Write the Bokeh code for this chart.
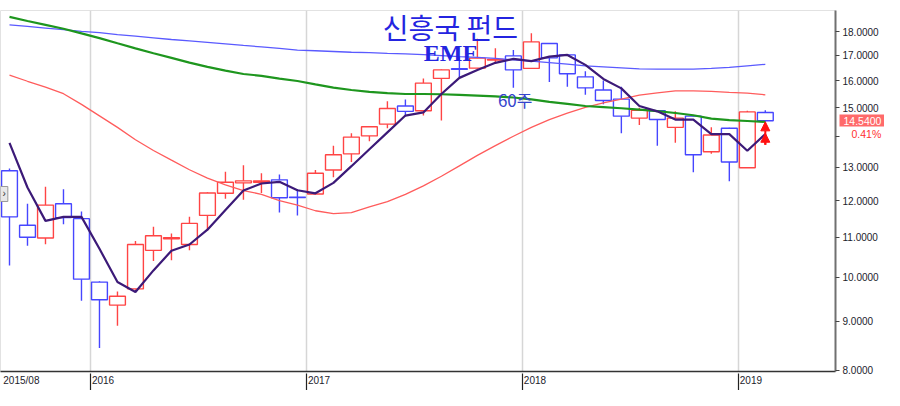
from bokeh.plotting import figure
from bokeh.models import (FixedTicker, PrintfTickFormatter, Range1d, Label,
                          Arrow, NormalHead, ColumnDataSource, LinearAxis, LogAxis)
from bokeh.embed import file_html
from bokeh.resources import INLINE

# ---- data (monthly candles, 2015/08 .. 2019/02) ----
opens = [12.90, 11.32, 10.98, 11.92, 11.50, 9.88, 9.35, 9.72, 10.66, 10.96,
         10.81, 11.59, 12.22, 12.53, 12.55, 12.62, 12.11, 12.20, 12.92, 13.43,
         14.02, 14.42, 15.06, 14.89, 16.09, 16.47, 16.49, 16.81, 16.98, 16.48,
         17.49, 17.02, 16.15, 15.65, 15.31, 14.63, 14.89, 14.31, 14.70, 13.50,
         14.28, 12.99, 14.83]
highs = [12.97, 11.92, 12.41, 12.34, 11.70, 9.90, 9.66, 10.90, 11.28, 11.10,
         11.55, 12.25, 12.87, 13.07, 12.82, 12.78, 12.35, 12.92, 13.69, 14.11,
         14.35, 15.23, 15.30, 16.09, 16.44, 16.98, 17.69, 17.29, 17.22, 17.93,
         17.51, 17.04, 16.37, 16.01, 15.77, 15.00, 14.91, 14.87, 14.73, 14.31,
         14.30, 14.89, 14.91]
lows = [10.28, 10.78, 10.82, 11.35, 9.45, 8.44, 8.90, 9.70, 10.39, 10.41,
        10.66, 11.17, 12.06, 12.03, 12.23, 11.67, 11.59, 12.19, 12.70, 13.17,
        13.84, 14.28, 14.69, 14.72, 14.55, 16.13, 16.47, 16.70, 15.73, 16.46,
        15.95, 15.77, 15.47, 15.12, 14.11, 14.39, 13.69, 13.79, 12.85, 13.43,
        12.58, 12.98, 14.50]
closes = [11.55, 11.00, 11.88, 11.53, 9.95, 9.47, 9.55, 10.81, 11.04, 10.99,
          11.37, 12.23, 12.55, 12.59, 12.59, 12.09, 12.10, 12.82, 13.40, 13.98,
          14.33, 14.97, 14.87, 15.91, 16.42, 16.44, 16.89, 16.84, 16.42, 17.56,
          16.90, 16.27, 15.73, 15.26, 14.70, 14.91, 14.58, 14.63, 13.40, 14.05,
          13.17, 14.85, 14.54]
ma_short = [13.79, 12.39, 11.44, 11.55, 11.55, 10.70, 9.88, 9.65, 10.16, 10.65,
            10.81, 11.20, 11.74, 12.30, 12.51, 12.56, 12.31, 12.22, 12.53, 13.04,
            13.58, 14.14, 14.72, 14.83, 15.50, 16.11, 16.42, 16.70, 16.86, 16.77,
            16.95, 17.02, 16.62, 16.07, 15.71, 15.06, 14.87, 14.58, 14.58, 14.08,
            14.08, 13.53, 14.08]
ma_mid = [16.22, 15.98, 15.76, 15.51, 15.12, 14.71, 14.31, 13.89, 13.54, 13.23,
          12.93, 12.67, 12.47, 12.30, 12.19, 12.01, 11.88, 11.72, 11.64, 11.67,
          11.83, 11.98, 12.19, 12.44, 12.73, 13.05, 13.38, 13.70, 14.01, 14.31,
          14.58, 14.81, 15.01, 15.17, 15.31, 15.46, 15.54, 15.62, 15.62, 15.60,
          15.56, 15.53, 15.47]
ma_long = [18.64, 18.46, 18.29, 18.12, 17.92, 17.72, 17.50, 17.29, 17.09, 16.90,
           16.71, 16.54, 16.39, 16.26, 16.19, 16.08, 15.99, 15.86, 15.74, 15.65,
           15.58, 15.53, 15.50, 15.50, 15.49, 15.47, 15.44, 15.41, 15.37, 15.30,
           15.21, 15.14, 15.06, 15.02, 14.98, 14.93, 14.88, 14.81, 14.73, 14.61,
           14.56, 14.53, 14.50]
ma_longest = [18.29, 18.22, 18.15, 18.08, 18.01, 17.95, 17.87, 17.80, 17.73, 17.66,
              17.60, 17.54, 17.48, 17.41, 17.35, 17.29, 17.22, 17.19, 17.16, 17.13,
              17.11, 17.08, 17.06, 17.03, 16.99, 16.95, 16.92, 16.88, 16.82, 16.77,
              16.71, 16.65, 16.58, 16.54, 16.50, 16.46, 16.45, 16.45, 16.45, 16.48,
              16.52, 16.58, 16.64]

x_tick_pos = [0, 5, 17, 29, 41]
x_tick_labels = ["2015/08", "2016", "2017", "2018", "2019"]
y_ticks = [8, 9, 10, 11, 12, 13, 14, 15, 16, 17, 18]

last_price = 14.54
change_text = "0.41%"
change_level = 14.08
signal_index = 42
signal_base = 13.73
signal_tips = [14.50, 14.11]

RED = "#ff4444"
BLUE = "#4646ff"
TXT = "#1c1c2c"

n = len(closes)
xs = [i + 0.5 for i in range(n)]
cols = [RED if c >= o else BLUE for o, c in zip(opens, closes)]
src = ColumnDataSource(dict(
    x=xs, o=opens, h=highs, l=lows, c=closes,
    top=[max(o, c) for o, c in zip(opens, closes)],
    bot=[min(o, c) for o, c in zip(opens, closes)],
    col=cols,
))

p = figure(width=884, height=390, x_range=Range1d(0, 46.4),
           y_range=Range1d(7.976, 18.93), y_axis_type="log",
           x_axis_location=None, y_axis_location=None,
           output_backend="svg", toolbar_location=None,
           min_border_left=0, min_border_right=0,
           min_border_top=10, min_border_bottom=0,
           background_fill_color="white", border_fill_color="white",
           outline_line_color="#e2e2e2")

# ---- bottom: label axis (labels just right of each year boundary) ----
label_shift = [1.16] + [0.70] * (len(x_tick_pos) - 1)
label_centers = [t + s for t, s in zip(x_tick_pos, label_shift)]
xlab = LinearAxis(ticker=FixedTicker(ticks=label_centers),
                  major_label_overrides={c: t for c, t in zip(label_centers, x_tick_labels)},
                  major_tick_out=0, major_tick_in=0,
                  minor_tick_out=0, minor_tick_in=0,
                  axis_line_color="#333333", axis_line_width=1.5,
                  major_label_standoff=3,
                  major_label_text_font="Liberation Sans",
                  major_label_text_font_size="10px",
                  major_label_text_color=TXT)
p.add_layout(xlab, "below")
# year boundary tick marks reaching up to the axis line
xtick = LinearAxis(ticker=FixedTicker(ticks=x_tick_pos[1:]),
                   major_label_overrides={t: "" for t in x_tick_pos[1:]},
                   major_label_text_font_size="1px", major_label_standoff=0,
                   major_tick_in=15, major_tick_out=2,
                   major_tick_line_color="#222222", major_tick_line_width=1.2,
                   minor_tick_out=0, minor_tick_in=0,
                   axis_line_color=None)
p.add_layout(xtick, "below")

# ---- right: price axis ----
yax = LogAxis(ticker=FixedTicker(ticks=y_ticks),
              formatter=PrintfTickFormatter(format="%.4f"),
              major_label_overrides={14: ""},
              major_tick_out=4, major_tick_in=0,
              minor_tick_out=0, minor_tick_in=0,
              axis_line_color="#707070", axis_line_width=2,
              major_tick_line_color="#444444",
              major_label_standoff=3,
              major_label_text_font="Liberation Sans",
              major_label_text_font_size="10px",
              major_label_text_color=TXT)
p.add_layout(yax, "right")
# last price tag (red box drawn as a thick tick, white text)
ytag = LogAxis(ticker=FixedTicker(ticks=[last_price]),
               formatter=PrintfTickFormatter(format="%.4f"),
               major_tick_in=42, major_tick_out=3,
               major_tick_line_color="#ff6a6a", major_tick_line_width=12,
               minor_tick_out=0, minor_tick_in=0,
               axis_line_color=None,
               major_label_standoff=-41,
               major_label_text_font="Liberation Sans",
               major_label_text_font_size="10.5px",
               major_label_text_color="white")
p.add_layout(ytag, "right")
# change text under the tag
ychg = LogAxis(ticker=FixedTicker(ticks=[change_level]),
               major_label_overrides={change_level: change_text},
               major_tick_in=0, major_tick_out=0,
               minor_tick_out=0, minor_tick_in=0,
               axis_line_color=None,
               major_label_standoff=-33,
               major_label_text_font="Liberation Sans",
               major_label_text_font_size="10.5px",
               major_label_text_color="#ff3030")
p.add_layout(ychg, "right")

p.xgrid.ticker = FixedTicker(ticks=x_tick_pos[1:])
p.xgrid.grid_line_color = "#d6d6d6"
p.xgrid.grid_line_width = 1.5
p.ygrid.visible = False

# candles
p.segment(x0="x", y0="h", x1="x", y1="l", color="col", line_width=1.4, source=src)
p.vbar(x="x", width=0.88, top="top", bottom="bot", fill_color="white",
       line_color="col", line_width=1.4, source=src)

# moving averages
p.line(xs, ma_longest, line_color="#5a5aff", line_width=1.3)
p.line(xs, ma_mid, line_color="#ff5c5c", line_width=1.3)
p.line(xs, ma_long, line_color="#1e961e", line_width=2.2)
p.line(xs, ma_short, line_color="#3c1a78", line_width=2.2)

# signal arrows
for tip in signal_tips:
    p.add_layout(Arrow(x_start=xs[signal_index], y_start=signal_base,
                       x_end=xs[signal_index], y_end=tip,
                       line_color="#ff1010", line_width=2,
                       end=NormalHead(size=9, fill_color="#ff1010",
                                      line_color="#ff1010")))

# titles
p.add_layout(Label(x=25.0, y=18.21, text="신흥국 펀드", text_align="center",
                   text_baseline="middle", text_font="Noto Sans CJK KR",
                   text_font_size="28px", text_color="#2424e0"))
p.add_layout(Label(x=25.0, y=17.11, text="EMF", text_align="center",
                   text_baseline="middle", text_font="Liberation Serif",
                   text_font_style="bold", text_font_size="24px",
                   text_color="#2424e0"))
p.add_layout(Label(x=28.6, y=15.30, text="60주", text_align="center",
                   text_baseline="middle", text_font="Noto Sans CJK KR",
                   text_font_size="17px", text_color="#3444cc"))

# scroll button at left edge
p.add_layout(Label(x=0, y=12.2, text="›", text_align="left",
                   text_baseline="middle", text_font="Liberation Sans",
                   text_font_size="10px", text_color="#333333",
                   background_fill_color="#e8e8e8", border_line_color="#999999",
                   padding=2))

open("out.html", "w").write(file_html(p, INLINE))
